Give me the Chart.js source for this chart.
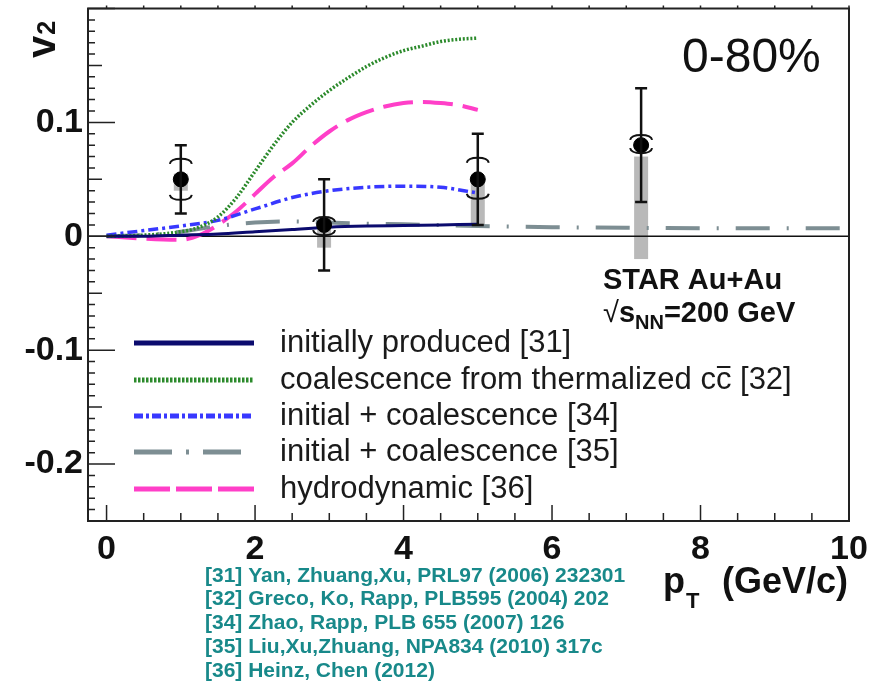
<!DOCTYPE html>
<html>
<head>
<meta charset="utf-8">
<script src="https://cdn.jsdelivr.net/npm/chart.js@4.4.1/dist/chart.umd.min.js"></script>
<style>
  html, body { margin: 0; padding: 0; background: #fff; }
  #wrap { width: 880px; height: 684px; }
</style>
</head>
<body>
<div id="wrap"><canvas id="c" width="880" height="684"></canvas></div>
<script>
// J/psi v2 vs pT, STAR Au+Au 200 GeV, 0-80%, compared with model curves

// measured points
const dataPt = [1.0, 2.93, 5.0, 7.2];
const dataV2 = [0.05, 0.01, 0.05, 0.08];
const statErr = [0.03, 0.04, 0.04, 0.05];
const sysUp = [0.018, 0.007, 0.019, 0.009];
const sysDown = [0.018, 0.009, 0.017, 0.007];
const bandHigh = [0.055, 0.016, 0.05, 0.07];
const bandLow = [0.04, -0.01, 0.008, -0.02];

// model curves
const ptInit = [0, 0.5, 1, 1.5, 2, 2.5, 3, 3.5, 4, 4.5, 5];
const v2Init = [0, 0, 0.001, 0.002, 0.004, 0.006, 0.008, 0.009, 0.0095, 0.01, 0.0105];

const ptCoal = [0, 0.5, 1, 1.25, 1.5, 1.75, 2, 2.25, 2.5, 2.75, 3, 3.25, 3.5, 3.75, 4, 4.25, 4.5, 4.75, 5];
const v2Coal = [0, 0.001, 0.004, 0.008, 0.017, 0.034, 0.057, 0.08, 0.1, 0.115, 0.128, 0.139, 0.149, 0.157, 0.163, 0.167, 0.171, 0.173, 0.174];

const ptZhao = [0, 0.5, 1, 1.5, 2, 2.5, 3, 3.5, 4, 4.5, 5];
const v2Zhao = [0.001, 0.005, 0.009, 0.014, 0.024, 0.034, 0.04, 0.043, 0.044, 0.043, 0.038];

const ptLiu = [0, 0.5, 1, 1.5, 2, 2.5, 3, 3.5, 4, 5, 6, 7, 8, 9, 10];
const v2Liu = [0, 0.001, 0.004, 0.009, 0.012, 0.013, 0.012, 0.011, 0.0105, 0.009, 0.008, 0.0075, 0.007, 0.007, 0.007];

const ptHydro = [0, 0.5, 1, 1.25, 1.5, 1.75, 2, 2.25, 2.5, 2.75, 3, 3.25, 3.5, 3.75, 4, 4.25, 4.5, 4.75, 5];
const v2Hydro = [0, -0.002, -0.003, 0.001, 0.01, 0.022, 0.037, 0.052, 0.064, 0.079, 0.092, 0.102, 0.109, 0.114, 0.117, 0.118, 0.117, 0.115, 0.111];

// axes
const xTicks = [0, 2, 4, 6, 8, 10];
const yTicks = [-0.2, -0.1, 0, 0.1];
const yTickLabels = ['-0.2', '-0.1', '0', '0.1'];

// texts
const legendLabels = [
  'initially produced [31]',
  'coalescence from thermalized cc [32]',
  'initial + coalescence [34]',
  'initial + coalescence [35]',
  'hydrodynamic [36]'
];
const refLabels = [
  '[31] Yan, Zhuang,Xu, PRL97 (2006) 232301',
  '[32] Greco, Ko, Rapp, PLB595 (2004) 202',
  '[34] Zhao, Rapp, PLB 655 (2007) 126',
  '[35] Liu,Xu,Zhuang, NPA834 (2010) 317c',
  '[36] Heinz, Chen (2012)'
];

const FONT = "'Liberation Sans', Arial, Helvetica, sans-serif";
const NARROW = "'Liberation Sans Narrow', 'Arial Narrow', 'Liberation Sans', sans-serif";

const curveStyles = [
  { color: '#0b0b6e', width: 3, dash: [], legendWidth: 5, legendDash: [] },
  { color: '#2b8a2b', width: 3.5, dash: [2, 1.8], legendWidth: 5, legendDash: [2.5, 1.5] },
  { color: '#3838ff', width: 3.5, dash: [10, 4, 3, 4], legendWidth: 5, legendDash: [9, 3, 3, 3] },
  { color: '#7d8e93', width: 4, dash: [34, 17, 2, 17], legendWidth: 5, legendDash: [38, 14, 3, 14] },
  { color: '#ff3fc8', width: 4, dash: [30, 10], legendWidth: 5, legendDash: [36, 6] }
];
const curvePts = [ptInit, ptCoal, ptZhao, ptLiu, ptHydro];
const curveV2 = [v2Init, v2Coal, v2Zhao, v2Liu, v2Hydro];

function toXY(xs, ys) {
  return xs.map((x, i) => ({ x, y: ys[i] }));
}

const curveSets = curveStyles.map((s, i) => ({
  label: legendLabels[i],
  data: toXY(curvePts[i], curveV2[i]),
  showLine: true,
  borderColor: s.color,
  borderWidth: s.width,
  borderDash: s.dash,
  pointRadius: 0,
  cubicInterpolationMode: 'monotone',
  fill: false
}));

const physicsPlugin = {
  id: 'physics',
  beforeDatasetsDraw(chart) {
    const { ctx, chartArea: a, scales: { x, y } } = chart;
    ctx.save();
    // systematic bands
    ctx.fillStyle = '#b9b9b9';
    dataPt.forEach((pt, i) => {
      const px = x.getPixelForValue(pt);
      const t = y.getPixelForValue(bandHigh[i]);
      const b = y.getPixelForValue(bandLow[i]);
      ctx.fillRect(px - 7, t, 14, b - t);
    });
    // zero line
    const y0 = y.getPixelForValue(0);
    ctx.strokeStyle = '#111';
    ctx.lineWidth = 1.5;
    ctx.beginPath();
    ctx.moveTo(a.left, y0);
    ctx.lineTo(a.right, y0);
    ctx.stroke();
    ctx.restore();
  },
  afterDatasetsDraw(chart) {
    const { ctx, chartArea: a, scales: { x, y } } = chart;
    ctx.save();

    // stat error bars + sys brackets
    ctx.strokeStyle = '#111';
    dataPt.forEach((pt, i) => {
      const px = x.getPixelForValue(pt);
      const t = y.getPixelForValue(dataV2[i] + statErr[i]);
      const b = y.getPixelForValue(dataV2[i] - statErr[i]);
      ctx.lineWidth = 2.5;
      ctx.beginPath();
      ctx.moveTo(px, t); ctx.lineTo(px, b);
      ctx.moveTo(px - 6, t); ctx.lineTo(px + 6, t);
      ctx.moveTo(px - 6, b); ctx.lineTo(px + 6, b);
      ctx.stroke();
      const su = y.getPixelForValue(dataV2[i] + sysUp[i]);
      const sd = y.getPixelForValue(dataV2[i] - sysDown[i]);
      ctx.lineWidth = 2;
      ctx.beginPath();
      ctx.moveTo(px - 11, su + 5);
      ctx.quadraticCurveTo(px - 10, su, px, su);
      ctx.quadraticCurveTo(px + 10, su, px + 11, su + 5);
      ctx.moveTo(px - 11, sd - 5);
      ctx.quadraticCurveTo(px - 10, sd, px, sd);
      ctx.quadraticCurveTo(px + 10, sd, px + 11, sd - 5);
      ctx.stroke();
    });

    // frame
    ctx.strokeStyle = '#222';
    ctx.lineWidth = 2;
    ctx.strokeRect(a.left, a.top, a.right - a.left, a.bottom - a.top);

    // inward ticks
    ctx.lineWidth = 1.5;
    ctx.beginPath();
    for (let k = -25; k <= 20; k++) {
      const py = y.getPixelForValue(k / 100);
      const len = k % 10 === 0 ? 27 : (k % 5 === 0 ? 14 : 7);
      ctx.moveTo(a.left, py); ctx.lineTo(a.left + len, py);
    }
    for (let k = 0; k <= 20; k++) {
      const px = x.getPixelForValue(k / 2);
      const len = k % 4 === 0 ? 16 : 8;
      ctx.moveTo(px, a.bottom); ctx.lineTo(px, a.bottom - len);
      ctx.moveTo(px, a.top); ctx.lineTo(px, a.top - 3);
    }
    ctx.stroke();

    // legend
    const rowY = [343, 380, 416, 452, 489];
    ctx.textBaseline = 'middle';
    curveStyles.forEach((s, i) => {
      ctx.strokeStyle = s.color;
      ctx.lineWidth = s.legendWidth;
      ctx.setLineDash(s.legendDash);
      ctx.beginPath();
      ctx.moveTo(134, rowY[i]);
      ctx.lineTo(254, rowY[i]);
      ctx.stroke();
    });
    ctx.setLineDash([]);
    ctx.fillStyle = '#1a1a1a';
    ctx.font = '31px ' + FONT;
    legendLabels.forEach((lbl, i) => {
      ctx.fillText(lbl, 280, rowY[i]);
    });
    // overline on the anti-charm "c"
    const pre = legendLabels[1].indexOf('cc [') + 1;
    const x0 = 280 + ctx.measureText(legendLabels[1].slice(0, pre)).width;
    const cw = ctx.measureText('c').width;
    ctx.strokeStyle = '#1a1a1a';
    ctx.lineWidth = 2;
    ctx.beginPath();
    ctx.moveTo(x0 + 1, rowY[1] - 13);
    ctx.lineTo(x0 + cw - 1, rowY[1] - 13);
    ctx.stroke();

    // centrality label
    ctx.textBaseline = 'alphabetic';
    ctx.fillStyle = '#111';
    ctx.font = '48px ' + FONT;
    ctx.fillText('0-80%', 682, 72);

    // STAR label
    ctx.font = 'bold 29px ' + FONT;
    ctx.fillText('STAR Au+Au', 603, 289);
    let cx = 603;
    ctx.font = '29px ' + FONT;
    ctx.fillText('\u221A', cx, 322);
    cx += ctx.measureText('\u221A').width;
    ctx.font = 'bold 29px ' + FONT;
    ctx.fillText('s', cx, 322);
    cx += ctx.measureText('s').width;
    ctx.font = 'bold 20px ' + FONT;
    ctx.fillText('NN', cx, 329);
    cx += ctx.measureText('NN').width;
    ctx.font = 'bold 29px ' + FONT;
    ctx.fillText('=200 GeV', cx, 322);

    // axis titles
    ctx.font = 'bold 36px ' + FONT;
    ctx.textAlign = 'right';
    ctx.fillText('(GeV/c)', 848, 593);
    ctx.textAlign = 'left';
    ctx.fillText('p', 663, 593);
    ctx.font = 'bold 22px ' + FONT;
    ctx.fillText('T', 686, 608);

    ctx.save();
    ctx.translate(55, 58);
    ctx.rotate(-Math.PI / 2);
    ctx.font = 'bold 40px ' + FONT;
    ctx.fillText('v', 0, 0);
    const vw = ctx.measureText('v').width;
    ctx.font = 'bold 25px ' + FONT;
    ctx.fillText('2', vw + 1, 0);
    ctx.restore();

    // references
    ctx.fillStyle = '#18898a';
    ctx.font = 'bold 21px ' + NARROW;
    const refY = [582, 605, 629, 653, 677];
    refLabels.forEach((r, i) => ctx.fillText(r, 205, refY[i]));

    ctx.restore();
  }
};

new Chart(document.getElementById('c'), {
  type: 'scatter',
  data: {
    datasets: [
      {
        label: 'STAR Au+Au',
        data: toXY(dataPt, dataV2),
        pointRadius: 7.5,
        pointBackgroundColor: '#000',
        pointBorderColor: '#000',
        showLine: false
      },
      ...curveSets
    ]
  },
  options: {
    responsive: false,
    animation: false,
    layout: { padding: { top: 8, right: 31, bottom: 0, left: 0 } },
    plugins: { legend: { display: false }, tooltip: { enabled: false } },
    scales: {
      x: {
        type: 'linear',
        min: -0.25,
        max: 10,
        afterBuildTicks: (s) => { s.ticks = xTicks.map((v) => ({ value: v })); },
        afterFit: (s) => { s.height = 163; s.paddingLeft = 0; s.paddingRight = 0; },
        grid: { display: false, drawTicks: false },
        border: { display: false },
        ticks: {
          color: '#111',
          padding: 8,
          maxRotation: 0,
          autoSkip: false,
          font: { family: FONT, size: 34, weight: 'bold' },
          callback: (v) => String(v)
        }
      },
      y: {
        type: 'linear',
        min: -0.25,
        max: 0.2,
        afterBuildTicks: (s) => { s.ticks = yTicks.map((v) => ({ value: v })); },
        afterFit: (s) => { s.width = 88; s.paddingTop = 0; s.paddingBottom = 0; },
        grid: { display: false, drawTicks: false },
        border: { display: false },
        ticks: {
          color: '#111',
          padding: 5,
          autoSkip: false,
          font: { family: FONT, size: 34, weight: 'bold' },
          callback: (v, i) => yTickLabels[i]
        }
      }
    }
  },
  plugins: [physicsPlugin]
});
</script>
</body>
</html>
